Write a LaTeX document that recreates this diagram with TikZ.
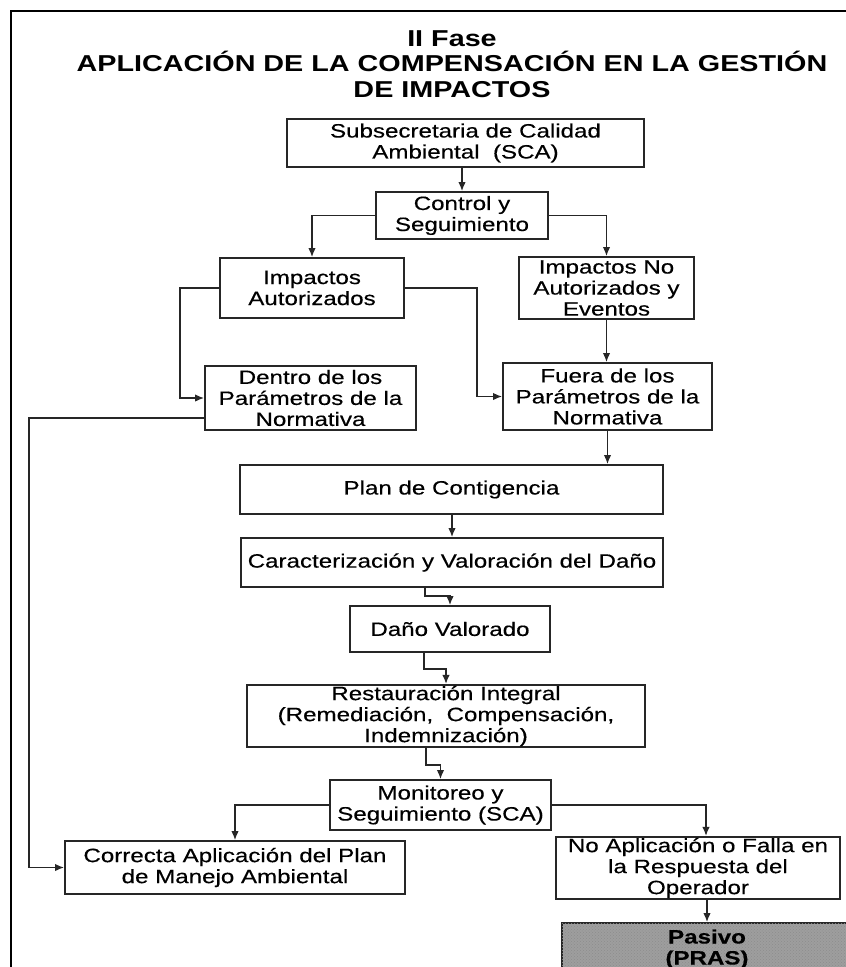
\documentclass[tikz,border=0pt]{standalone}
\usepackage{fontspec}
\setmainfont{Liberation Sans}[FakeStretch=1.25]
\newfontfamily\cajafam{Liberation Sans}[FakeStretch=1.25,FakeBold=0.35]
\usetikzlibrary{arrows.meta,positioning,calc,patterns}

\newcommand{\cuerpo}{\fontsize{19.3}{21}\cajafam}
\newcommand{\titulo}{\fontsize{23}{25.5}\selectfont\bfseries}

\begin{document}
\begin{tikzpicture}[x=1pt,y=-1pt,
  caja/.style={draw=black!85,line width=2pt,align=center,inner sep=1pt,font=\cuerpo},
  flecha/.style={-{Latex[length=9pt,width=7.5pt]},line width=1.3pt,draw=black!85}]
\useasboundingbox (0,0) rectangle (846,967);
\fill[white] (0,0) rectangle (846,967);
\draw[line width=2.4pt] (11,967) -- (11,11) -- (846,11);

\node[font=\titulo,align=center] (titulo) at (452,64) {II Fase\\APLICACIÓN DE LA COMPENSACIÓN EN LA GESTIÓN\\DE IMPACTOS};

\node[caja,minimum width=357,minimum height=48] (sca) at (465.5,143) {Subsecretaria de Calidad\\Ambiental~ (SCA)};
\node[caja,minimum width=172,minimum height=47] (ctrl) at (462,215.5) {Control y\\Seguimiento};
\node[caja,minimum width=184,minimum height=60] (iaut) at (312,288) {Impactos\\Autorizados};
\node[caja,minimum width=175,minimum height=62] (inoaut) at (606.5,288) {Impactos No\\Autorizados y\\Eventos};
\node[caja,minimum width=211,minimum height=64] (dentro) at (310.5,398) {Dentro de los\\Parámetros de la\\Normativa};
\node[caja,minimum width=209,minimum height=67] (fuera) at (607.5,396.5) {Fuera de los\\Parámetros de la\\Normativa};
\node[caja,minimum width=423,minimum height=49] (plan) at (451.5,489.5) {Plan de Contigencia};
\node[caja,minimum width=422,minimum height=49] (caract) at (452,562.5) {Caracterización y Valoración del Daño};
\node[caja,minimum width=200,minimum height=46] (dano) at (450,629) {Daño Valorado};
\node[caja,minimum width=398,minimum height=60] (rest) at (446,716) {Restauración Integral\\(Remediación,~ Compensación,\\Indemnización)};
\node[caja,minimum width=221,minimum height=50] (mon) at (440.5,805) {Monitoreo y\\Seguimiento (SCA)};
\node[caja,minimum width=340,minimum height=53] (corr) at (235,867.5) {Correcta Aplicación del Plan\\de Manejo Ambiental};
\node[caja,minimum width=284,minimum height=62] (noap) at (698,868) {No Aplicación o Falla en\\la Respuesta del\\Operador};
\node[caja,fill=black!38,postaction={pattern=crosshatch dots,pattern color=black!45},minimum width=290,minimum height=52,anchor=north west,font=\cuerpo\bfseries] (pasivo) at (561,922) {Pasivo\\(PRAS)};

\draw[flecha] (ctrl.north |- sca.south) -- (ctrl.north);
\draw[flecha] (ctrl.west) -| (iaut.north);
\draw[flecha] (ctrl.east) -| (inoaut.north);
\draw[flecha] (iaut.west) -- ++(-39,0) |- (dentro.west);
\draw[flecha] (iaut.east) -- ++(72,0) |- (fuera.west);
\draw[flecha] (inoaut.south) -- (inoaut.south |- fuera.north);
\draw[flecha] ([yshift=-20pt]dentro.west) -- ++(-175,0) |- (corr.west);
\draw[flecha] (fuera.south) -- (fuera.south |- plan.north);
\draw[flecha] (caract.north |- plan.south) -- (caract.north);
\draw[flecha] ([xshift=-27pt]caract.south) -- ++(0,8) -| (dano.north);
\draw[flecha] ([xshift=-26pt]dano.south) -- ++(0,16) -| (rest.north);
\draw[flecha] ([xshift=-20pt]rest.south) -- ++(0,17) -| (mon.north);
\draw[flecha] (mon.west) -| (corr.north);
\draw[flecha] (mon.east) -| ([xshift=8pt]noap.north);
\draw[flecha] (pasivo.north |- noap.south) -- (pasivo.north);
\end{tikzpicture}
\end{document}
